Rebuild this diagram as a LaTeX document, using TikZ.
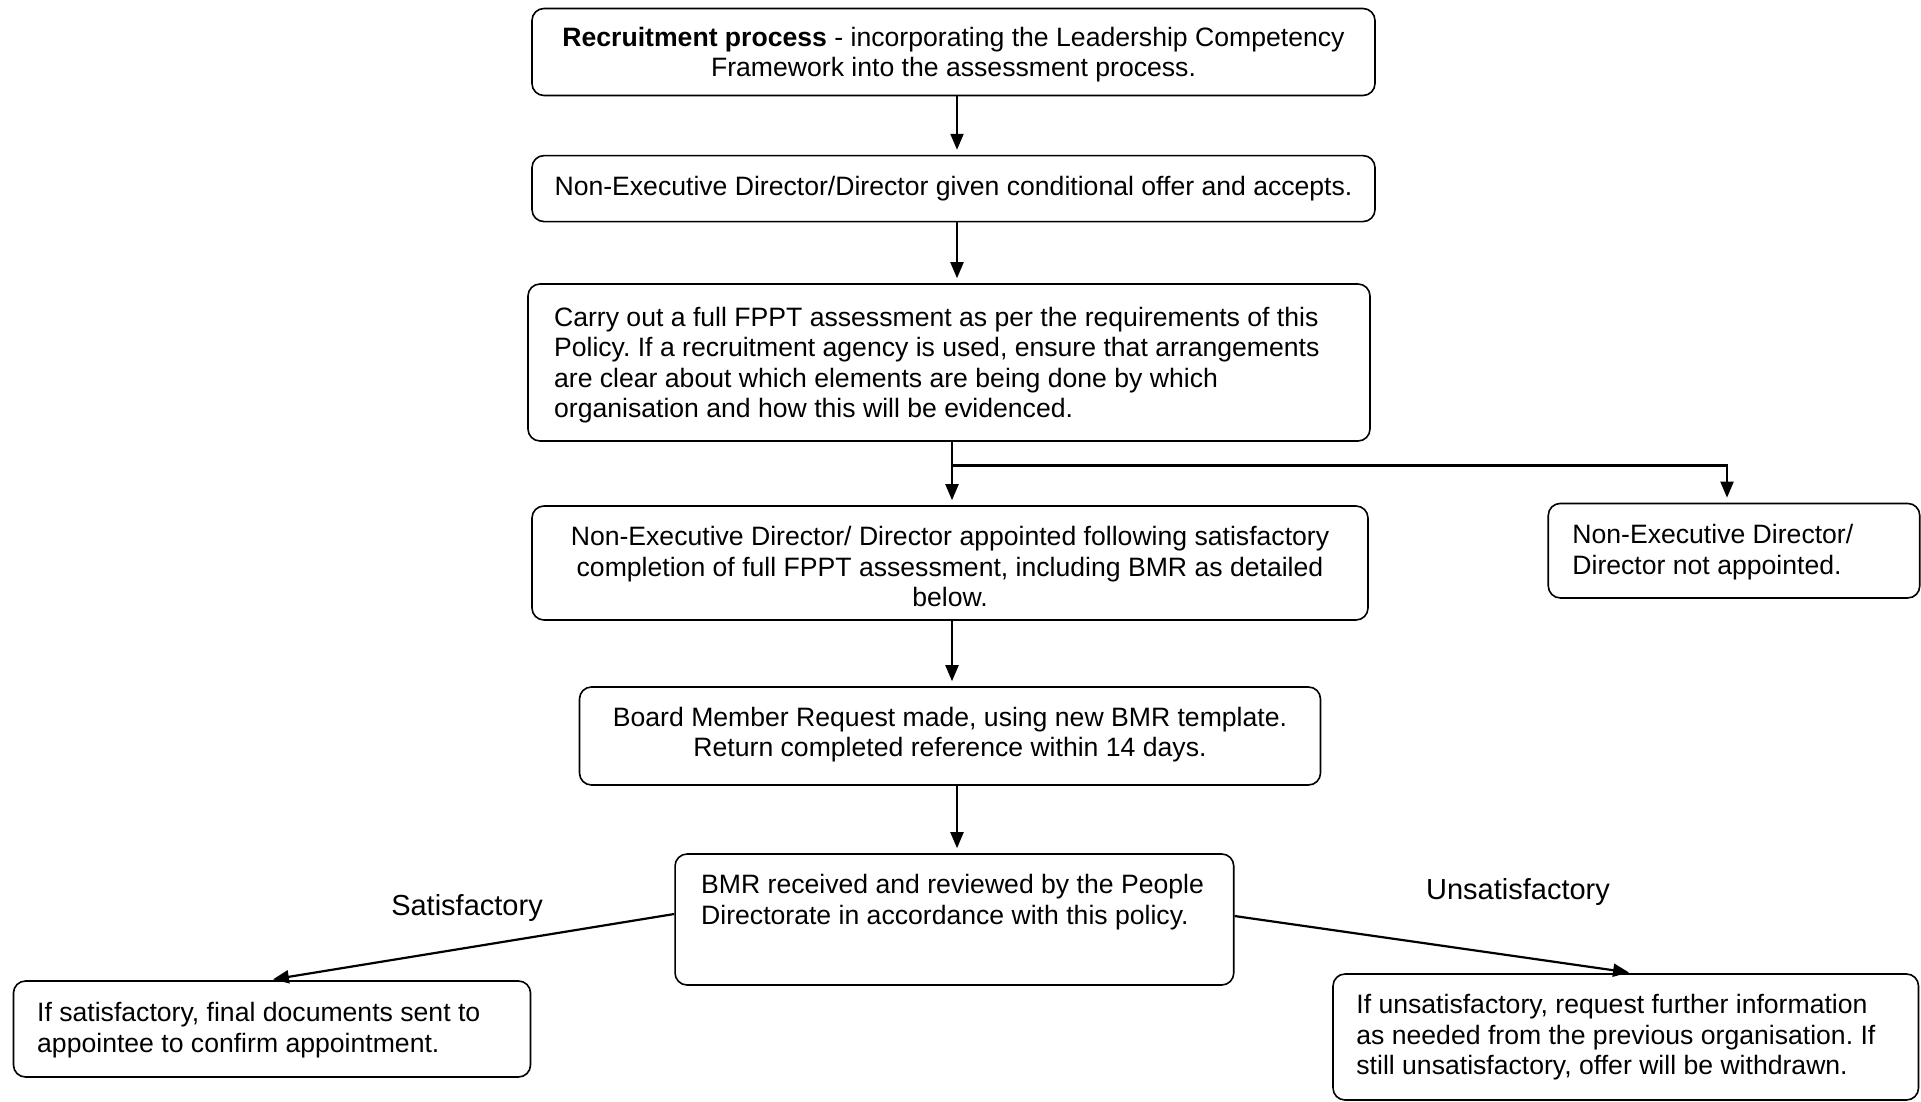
\documentclass[tikz,border=0pt]{standalone}
\usepackage{fontspec}
\setmainfont{Liberation Sans}
\usetikzlibrary{arrows.meta}
\frenchspacing
\newcommand\boxfont{\fontsize{13.3pt}{15.3pt}\selectfont}
\newcommand\lblfont{\fontsize{14.5pt}{16.5pt}\selectfont}
\begin{document}
\begin{tikzpicture}[x=0.5pt,y=-0.5pt,
  box/.style={draw, line width=0.8pt, rounded corners=6pt, inner sep=0pt},
  txt/.style={inner sep=0pt, font=\boxfont},
  lbl/.style={inner sep=0pt, font=\lblfont},
  arr/.style={line width=1.1pt, -{Triangle[length=8pt,width=6.5pt]}, shorten >=2.5pt}]
\useasboundingbox (0,0) rectangle (1921,1102);
% boxes
\node[box, minimum width=421.5pt, minimum height=43.5pt] (b1) at (953.5,52) {};
\node[box, minimum width=421.5pt, minimum height=33pt] (b2) at (953.5,188.6) {};
\node[box, minimum width=421pt, minimum height=78.5pt] (b3) at (949,362.5) {};
\node[box, minimum width=418pt, minimum height=57pt] (b4) at (950,563) {};
\node[box, minimum width=185.75pt, minimum height=47.25pt] (b5) at (1734,550.7) {};
\node[box, minimum width=370.5pt, minimum height=49pt] (b6) at (950,736) {};
\node[box, minimum width=279.35pt, minimum height=65.5pt] (b7) at (954.4,919.5) {};
\node[box, minimum width=258.5pt, minimum height=48pt] (b8) at (272,1029) {};
\node[box, minimum width=292.75pt, minimum height=63pt] (b9) at (1625.75,1037) {};
% texts
\node[txt, anchor=north, align=center] (t1) at (953.5,26.5) {\textbf{Recruitment process} - incorporating the Leadership Competency\\Framework into the assessment process.};
\node[txt, anchor=north, align=center] (t2) at (953.5,176) {Non-Executive Director/Director given conditional offer and accepts.};
\node[txt, anchor=north west, align=left] (t3) at (553.7,306.5) {Carry out a full FPPT assessment as per the requirements of this\\Policy. If a recruitment agency is used, ensure that arrangements\\are clear about which elements are being done by which\\organisation and how this will be evidenced.};
\node[txt, anchor=north, align=center] (t4) at (950,526) {Non-Executive Director/ Director appointed following satisfactory\\completion of full FPPT assessment, including BMR as detailed\\below.};
\node[txt, anchor=north west, align=left] (t5) at (1572,524) {Non-Executive Director/\\Director not appointed.};
\node[txt, anchor=north, align=center] (t6) at (950,706.7) {Board Member Request made, using new BMR template.\\Return completed reference within 14 days.};
\node[txt, anchor=north west, align=left] (t7) at (700.8,874) {BMR received and reviewed by the People\\Directorate in accordance with this policy.};
\node[txt, anchor=north west, align=left] (t8) at (36.8,1002) {If satisfactory, final documents sent to\\appointee to confirm appointment.};
\node[txt, anchor=north west, align=left] (t9) at (1356,994) {If unsatisfactory, request further information\\as needed from the previous organisation. If\\still unsatisfactory, offer will be withdrawn.};
% labels
\node[lbl] (ls) at (467,907.5) {Satisfactory};
\node[lbl] (lu) at (1518,891.5) {Unsatisfactory};
% connectors
\draw[arr] (b1.south -| 957,0) -- (b2.north -| 957,0);
\draw[arr] (b2.south -| 957,0) -- (b3.north -| 957,0);
\draw[arr] (b3.south -| 952,0) -- (b4.north -| 952,0);
\coordinate (br) at (952,465.5);
\draw[arr] (br) -- (1727,465.5) -- (b5.north -| 1727,0);
\draw[arr] (b4.south -| 952,0) -- (b6.north -| 952,0);
\draw[arr] (b6.south -| 957,0) -- (b7.north -| 957,0);
\draw[arr] (b7.west |- 0,914) -- (b8.north -| 268,0);
\draw[arr] (b7.east |- 0,916) -- (b9.north -| 1634,0);
\end{tikzpicture}
\end{document}
